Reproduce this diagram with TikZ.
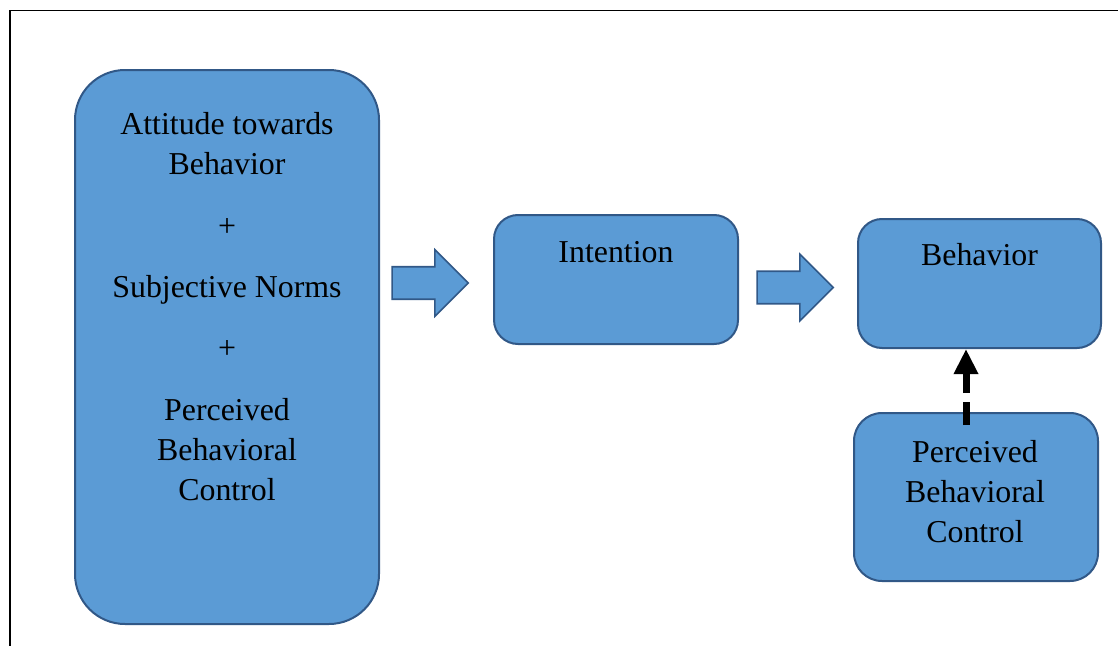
\documentclass[tikz,border=0pt]{standalone}
\usepackage{fontspec}
\setmainfont{Liberation Serif}
\definecolor{boxBlue}{RGB}{91,155,213}
\definecolor{edgeBlue}{RGB}{49,88,135}
\usetikzlibrary{shapes.arrows,arrows.meta}

\begin{document}
\begin{tikzpicture}[x=0.75pt,y=-0.75pt,
    tpbBox/.style={rectangle,draw=edgeBlue,fill=boxBlue,line width=1.5pt,inner sep=0pt},
    tpbText/.style={font=\fontsize{23.9}{30}\selectfont,align=center,inner sep=0pt},
    blockArrow/.style={single arrow,draw=edgeBlue,fill=boxBlue,line width=1.2pt,inner xsep=0pt,inner ysep=11.6pt,single arrow head extend=12.75pt,minimum height=57pt}]
    \useasboundingbox (0,0) rectangle (1118,646);

    % Frame
    \draw[line width=1.1pt] (10,646) -- (10,10.5) -- (1118,10.5);

    % Beliefs block
    \node[tpbBox,minimum width=228pt,minimum height=415.5pt,rounded corners=37.5pt] (attitude) at (227,347) {};
    \node[tpbText,anchor=north] (attitudeText) at (227,112.4) {Attitude towards\\Behavior\\[16pt]+\\[16pt]Subjective Norms\\[16pt]+\\[16pt]Perceived\\Behavioral\\Control};

    % Intention
    \node[blockArrow] (arrowA) at (422,283) {};
    \node[tpbBox,minimum width=183pt,minimum height=96.75pt,rounded corners=18pt] (intention) at (616,279.5) {};
    \node[tpbText,anchor=base] (intentionText) at (616,262) {Intention};

    % Behavior
    \node[blockArrow] (arrowB) at (787,287.5) {};
    \node[tpbBox,minimum width=182.25pt,minimum height=96.75pt,rounded corners=18pt] (behavior) at (979.5,283.5) {};
    \node[tpbText,anchor=base] (behaviorText) at (979.5,265) {Behavior};

    % Perceived behavioral control
    \node[tpbBox,minimum width=183pt,minimum height=126pt,rounded corners=21pt] (pbc) at (976,497) {};
    \node[tpbText,anchor=north] (pbcText) at (975,440.4) {Perceived\\Behavioral\\Control};

    \coordinate (pbcFoot) at ([xshift=-7.5pt,yshift=-9.75pt]pbc.north);
    \draw[line width=5.25pt,dash pattern=on 17.25pt off 6.75pt,-{Triangle[length=18.75pt,width=17.25pt]}] (pbcFoot) -- (pbcFoot |- behavior.south);
\end{tikzpicture}
\end{document}
